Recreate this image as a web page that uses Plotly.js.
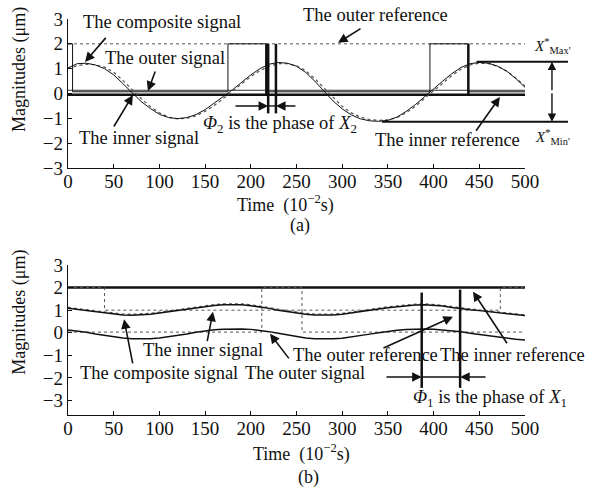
<!DOCTYPE html>
<html>
<head>
<meta charset="utf-8">
<script src="https://cdn.plot.ly/plotly-3.0.1.min.js"></script>
<style>html,body{margin:0;padding:0;background:#fff;}#chart{width:604px;height:490px;}</style>
</head>
<body>
<div id="chart"></div>
<script>
// ---------- data ----------
const time = [0,10,20,30,40,50,60,70,80,90,100,110,120,130,140,150,160,170,180,190,200,210,220,230,240,250,260,270,280,290,300,310,320,330,340,350,360,370,380,390,400,410,420,430,440,450,460,470,480,490,500];

// (a) signals
const compositeA = [1.03,1.2,1.22,1.15,1.0,0.75,0.4,0.02,-0.32,-0.6,-0.84,-0.97,-1.01,-0.97,-0.85,-0.65,-0.4,-0.12,0.15,0.45,0.75,1.0,1.18,1.25,1.22,1.1,0.85,0.5,0.1,-0.3,-0.62,-0.86,-1.02,-1.1,-1.12,-1.08,-0.95,-0.72,-0.45,-0.12,0.2,0.5,0.8,1.05,1.2,1.25,1.22,1.1,0.9,0.6,0.25];
const innerSignalA = [1.0,1.12,1.18,1.16,1.06,0.86,0.53,0.16,-0.2,-0.52,-0.78,-0.95,-1.02,-1.0,-0.9,-0.72,-0.48,-0.2,0.1,0.38,0.68,0.92,1.1,1.2,1.2,1.12,0.92,0.6,0.22,-0.18,-0.52,-0.78,-0.95,-1.05,-1.08,-1.06,-0.97,-0.78,-0.52,-0.2,0.12,0.42,0.72,0.98,1.15,1.22,1.2,1.1,0.9,0.62,0.3];
const outerSignalAX = [0, 500];
const outerSignalAY = [0.13, 0.13];
const outerRefAX = [0, 500];
const outerRefAY = [2, 2];
const pulseAX = [0, 5, 5, 175, 175, 217, 217, 396, 396, 438, 438, 500];
const pulseAY = [2, 2, 0.07, 0.07, 2, 2, 0.07, 0.07, 2, 2, 0.07, 0.07];
const innerRefAX = [0, 217, 217, 217, 438, 438, 438, 500];
const innerRefAY = [-0.05, -0.05, 2, -0.05, -0.05, 2, -0.05, -0.05];
const xMaxA = 1.28, xMinA = -1.14;
const phaseA = [219, 227.5];

// (b) signals
const compositeB = [1.08,1.03,0.97,0.91,0.86,0.82,0.79,0.78,0.79,0.82,0.87,0.93,0.99,1.05,1.11,1.17,1.21,1.24,1.25,1.24,1.2,1.15,1.08,1.0,0.93,0.87,0.82,0.79,0.78,0.79,0.82,0.87,0.93,0.99,1.05,1.11,1.16,1.2,1.23,1.24,1.22,1.18,1.12,1.06,1.02,0.98,0.94,0.9,0.85,0.8,0.76];
const innerSignalB = [1.12,1.07,1.01,0.95,0.9,0.86,0.83,0.82,0.83,0.86,0.91,0.97,1.03,1.09,1.15,1.2,1.25,1.28,1.29,1.28,1.24,1.19,1.12,1.04,0.97,0.91,0.86,0.83,0.82,0.83,0.86,0.91,0.97,1.03,1.09,1.15,1.2,1.24,1.27,1.28,1.26,1.22,1.16,1.1,1.05,1.01,0.97,0.93,0.88,0.83,0.79];
const outerSignalB = [0.12,0.08,0.02,-0.05,-0.12,-0.18,-0.23,-0.26,-0.27,-0.26,-0.23,-0.18,-0.12,-0.05,0.02,0.08,0.13,0.16,0.17,0.17,0.15,0.11,0.05,-0.02,-0.1,-0.17,-0.23,-0.27,-0.28,-0.27,-0.24,-0.19,-0.13,-0.06,0.0,0.06,0.11,0.14,0.16,0.17,0.16,0.13,0.09,0.04,-0.02,-0.08,-0.14,-0.2,-0.25,-0.29,-0.32];
const levelBX = [0, 500];
const levelBY = [2, 2];
const innerRefBX = [0, 40, 40, 473, 473, 500];
const innerRefBY = [2, 2, 1.0, 1.0, 2, 2];
const outerRefBX = [0, 212, 212, 256, 256, 500];
const outerRefBY = [0.03, 0.03, 2, 2, 0.03, 0.03];
const phaseB = [387, 429];

const xTicks = [0,50,100,150,200,250,300,350,400,450,500];
const yTicks = [-3,-2,-1,0,1,2,3];

// ---------- drawing ----------
const FONT = 'Liberation Serif, Times New Roman, serif';
const BLACK = '#111111', GREY = '#555555';

function line(x, y, xa, ya, color, width, dash, name) {
  return {type:'scatter', mode:'lines', x:x, y:y, xaxis:xa, yaxis:ya, name:name,
    line:{color:color, width:width, dash:dash||'solid'}, hoverinfo:'skip', showlegend:false};
}

const traces = [
  line(outerRefAX, outerRefAY, 'x', 'y', GREY, 1, 'dot', 'The outer reference'),
  line(outerSignalAX, outerSignalAY, 'x', 'y', '#333', 1, 'solid', 'The outer signal'),
  line(pulseAX, pulseAY, 'x', 'y', BLACK, 1, 'solid', 'Pulse'),
  line(innerRefAX, innerRefAY, 'x', 'y', BLACK, 2.5, 'solid', 'The inner reference'),
  line(time, innerSignalA, 'x', 'y', GREY, 1.2, 'dot', 'The inner signal'),
  line(time, compositeA, 'x', 'y', BLACK, 1, 'solid', 'The composite signal'),

  line(levelBX, levelBY, 'x2', 'y2', BLACK, 2.5, 'solid', 'Level'),
  line(innerRefBX, innerRefBY, 'x2', 'y2', GREY, 1, 'dot', 'The inner reference'),
  line(outerRefBX, outerRefBY, 'x2', 'y2', GREY, 1, 'dot', 'The outer reference'),
  line(time, innerSignalB, 'x2', 'y2', GREY, 1.2, 'dot', 'The inner signal'),
  line(time, compositeB, 'x2', 'y2', BLACK, 1.5, 'solid', 'The composite signal'),
  line(time, outerSignalB, 'x2', 'y2', BLACK, 1.5, 'solid', 'The outer signal')
];

const rangeA = [-3, 3], rangeB = [-3.64, 3];
function yDom(v, r) { return (v - r[0]) / (r[1] - r[0]); }

function txt(text, x, y, xref, yref, extra) {
  return Object.assign({text:text, x:x, y:y, xref:xref, yref:yref, showarrow:false,
    font:{family:FONT, size:18.5, color:BLACK}, xanchor:'center', yanchor:'middle'}, extra||{});
}
function arrow(hx, hy, tx, ty, xref, yref) {
  return {text:'', x:hx, y:hy, ax:tx, ay:ty, xref:xref, yref:yref, axref:xref, ayref:yref,
    showarrow:true, arrowhead:2, arrowsize:1.2, arrowwidth:1.6, arrowcolor:BLACK};
}
function arrowPx(hx, hy, dx, dy, xref, yref) {
  return {text:'', x:hx, y:hy, ax:dx, ay:dy, xref:xref, yref:yref,
    showarrow:true, arrowhead:2, arrowsize:1.2, arrowwidth:1.4, arrowcolor:BLACK};
}
const titleFont = {family:FONT, size:18, color:BLACK};

const annotations = [
  // (a)
  txt('The composite signal', 102.8, 2.89, 'x', 'y'),
  arrow(18.6, 1.27, 42.7, 2.3, 'x', 'y'),
  txt('The outer signal', 106, 1.43, 'x', 'y'),
  arrow(87.5, 0.1, 96, 0.95, 'x', 'y'),
  txt('The inner signal', 77.7, -1.8, 'x', 'y'),
  arrow(71, -0.06, 49.2, -1.39, 'x', 'y'),
  txt('The outer reference', 335.9, yDom(3.17, rangeA), 'x', 'y domain'),
  arrow(295.4, 2.04, 321.7, 2.65, 'x', 'y'),
  txt('<i>Φ</i><sub>2</sub> is the phase of <i>X</i><sub>2</sub>', 232, -1.25, 'x', 'y'),
  arrow(phaseA[0], -0.5, 181.6, -0.5, 'x', 'y'),
  arrow(phaseA[1], -0.5, 250.5, -0.5, 'x', 'y'),
  txt('The inner reference', 414.7, -1.88, 'x', 'y'),
  arrow(472.6, -0.14, 445.3, -1.56, 'x', 'y'),
  txt('<i>X</i><sup>*</sup><sub>Max\'</sub>', 1.06, 1.9, 'x domain', 'y', {font:{family:FONT, size:15, color:BLACK}}),
  txt('<i>X</i><sup>*</sup><sub>Min\'</sub>', 1.06, -1.75, 'x domain', 'y', {font:{family:FONT, size:15, color:BLACK}}),
  arrowPx(1.059, xMaxA, 0, 30, 'x domain', 'y'),
  arrowPx(1.059, xMinA, 0, -30, 'x domain', 'y'),
  txt('Time  (10<sup>−2</sup>s)', 238.5, yDom(-4.45, rangeA), 'x', 'y domain', {font:titleFont}),
  txt('(a)', 253.8, yDom(-5.31, rangeA), 'x', 'y domain', {font:titleFont}),
  txt('Magnitudes (μm)', -0.105, 0.95, 'paper', 'y', {textangle:-90, font:titleFont}),

  // (b)
  txt('The inner signal', 147.7, -0.76, 'x2', 'y2'),
  arrow(158.6, 0.93, 152, -0.44, 'x2', 'y2'),
  txt('The composite signal', 99.6, -1.78, 'x2', 'y2'),
  arrow(61.3, 0.6, 71.1, -1.42, 'x2', 'y2'),
  txt('The outer signal', 259.3, -1.78, 'x2', 'y2'),
  arrow(221, -0.04, 242.9, -1.2, 'x2', 'y2'),
  txt('The outer reference', 325.5, -1.0, 'x2', 'y2'),
  arrow(421.2, 0.71, 343.5, -0.7, 'x2', 'y2'),
  txt('The inner reference', 485.8, -0.98, 'x2', 'y2'),
  arrow(443.1, 1.82, 481.4, -0.53, 'x2', 'y2'),
  txt('<i>Φ</i><sub>1</sub> is the phase of <i>X</i><sub>1</sub>', 461.7, -2.89, 'x2', 'y2'),
  arrow(phaseB[0], -1.96, 346.8, -1.96, 'x2', 'y2'),
  arrow(phaseB[1], -1.96, 458.4, -1.96, 'x2', 'y2'),
  txt('Time  (10<sup>−2</sup>s)', 256, yDom(-5.32, rangeB), 'x2', 'y2 domain', {font:titleFont}),
  txt('(b)', 262.6, yDom(-6.4, rangeB), 'x2', 'y2 domain', {font:titleFont}),
  txt('Magnitudes (μm)', -0.105, 0.89, 'paper', 'y2', {textangle:-90, font:titleFont})
];

const shapes = [
  // phase markers (a)
  {type:'line', xref:'x', yref:'y', x0:phaseA[0], x1:phaseA[0], y0:2, y1:-0.8, line:{color:BLACK, width:2.5}},
  {type:'line', xref:'x', yref:'y', x0:phaseA[1], x1:phaseA[1], y0:2, y1:-0.8, line:{color:BLACK, width:2.5}},
  {type:'line', xref:'x', yref:'y', x0:phaseA[0], x1:phaseA[1], y0:-0.5, y1:-0.5, line:{color:BLACK, width:1.4}},
  // X*max / X*min tangents (a), extending right of the axis
  {type:'line', xref:'x domain', yref:'y domain', x0:447/500, x1:1.094, y0:yDom(xMaxA, rangeA), y1:yDom(xMaxA, rangeA), line:{color:BLACK, width:2}},
  {type:'line', xref:'x domain', yref:'y domain', x0:343.5/500, x1:1.094, y0:yDom(xMinA, rangeA), y1:yDom(xMinA, rangeA), line:{color:BLACK, width:2}},
  // phase markers (b)
  {type:'line', xref:'x2', yref:'y2', x0:phaseB[0], x1:phaseB[0], y0:1.78, y1:-2.44, line:{color:BLACK, width:2.5}},
  {type:'line', xref:'x2', yref:'y2', x0:phaseB[1], x1:phaseB[1], y0:1.91, y1:-2.44, line:{color:BLACK, width:2.5}},
  {type:'line', xref:'x2', yref:'y2', x0:phaseB[0], x1:phaseB[1], y0:-1.96, y1:-1.96, line:{color:BLACK, width:1.4}}
];

function xAxis(anchor) {
  return {domain:[0,1], anchor:anchor, range:[0,500], tickvals:xTicks, ticktext:xTicks.map(String),
    ticks:'inside', ticklen:4, tickcolor:BLACK, showline:true, linecolor:BLACK, linewidth:1.2,
    ticklabelstandoff:-4,
    showgrid:false, zeroline:false, tickfont:{family:FONT, size:19, color:BLACK}};
}
function yAxis(anchor, dom, range) {
  return {domain:dom, anchor:anchor, range:range, tickvals:yTicks, ticktext:yTicks.map(v => v < 0 ? '−' + Math.abs(v) : String(v)),
    ticks:'inside', ticklen:4, tickcolor:BLACK, showline:true, linecolor:BLACK, linewidth:1.2,
    showgrid:false, zeroline:false, tickfont:{family:FONT, size:19, color:BLACK}};
}

const layout = {
  width:604, height:490,
  margin:{l:68, r:79, t:19, b:75},
  paper_bgcolor:'#ffffff', plot_bgcolor:'#ffffff',
  showlegend:false,
  xaxis: xAxis('y'),
  yaxis: yAxis('x', [0.6237, 1], rangeA),
  xaxis2: xAxis('y2'),
  yaxis2: yAxis('x2', [0, 0.3788], rangeB),
  annotations: annotations,
  shapes: shapes,
  font:{family:FONT, color:BLACK}
};

Plotly.newPlot('chart', traces, layout, {staticPlot:true, displayModeBar:false});
</script>
</body>
</html>
